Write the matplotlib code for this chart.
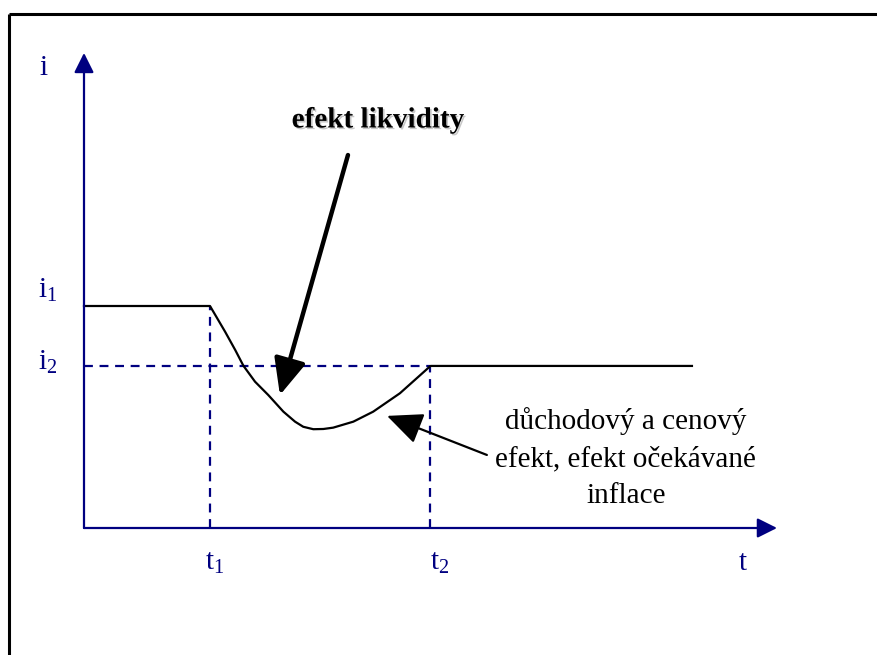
import matplotlib.pyplot as plt
import matplotlib.patheffects as pe
from matplotlib.lines import Line2D

plt.rcParams['font.family'] = ['Liberation Serif', 'DejaVu Serif']
plt.rcParams['mathtext.fontset'] = 'custom'
plt.rcParams['mathtext.rm'] = 'Liberation Serif'
plt.rcParams['mathtext.default'] = 'regular'

# levels and times
i1 = 10.0
i2 = 7.3
t1 = 4.0
t2 = 11.0
t_end = 19.3

# interest rate path
t_vals = [0.0, 4.0, 4.48, 4.80, 5.06, 5.43, 5.85, 6.33, 6.70, 6.96, 7.28, 7.60, 7.91,
          8.55, 9.18, 10.03, 11.0, 19.3]
i_vals = [10.0, 10.0, 8.84, 8.02, 7.31, 6.59, 5.99, 5.24, 4.79, 4.56, 4.45, 4.46, 4.52,
          4.79, 5.24, 6.07, 7.3, 7.3]

navy = '#000080'
fs = 21

fig = plt.figure(figsize=(8.78, 6.55), dpi=100)
ax = fig.add_axes([0, 0, 1, 1])
sx, sy = 31.5, 22.2
ax.set_xlim(-84 / sx, (878 - 84) / sx)
ax.set_ylim(-(655 - 528) / sy, 528 / sy)
ax.axis('off')

# frame (left and top edges only)
fig.add_artist(Line2D([9 / 878, 9 / 878], [0, 1 - 13.5 / 655], color='black', lw=2.2,
                      transform=fig.transFigure, solid_capstyle='butt'))
fig.add_artist(Line2D([9 / 878, 1], [1 - 13.5 / 655, 1 - 13.5 / 655], color='black', lw=2.2,
                      transform=fig.transFigure, solid_capstyle='butt'))

# axes with arrows
ax.annotate('', xy=(0, 21.4), xytext=(0, 0),
            arrowprops=dict(arrowstyle='-|>,head_length=0.6,head_width=0.3', color=navy,
                            lw=1.6, mutation_scale=20, shrinkA=0, shrinkB=0))
ax.annotate('', xy=(22.0, 0), xytext=(0, 0),
            arrowprops=dict(arrowstyle='-|>,head_length=0.6,head_width=0.3', color=navy,
                            lw=1.6, mutation_scale=20, shrinkA=0, shrinkB=0))

# dashed guides
ax.plot([0, t2], [i2, i2], color=navy, lw=1.6, ls=(0, (4, 3)))
ax.plot([t1, t1], [0, i1], color=navy, lw=1.6, ls=(0, (4, 3)))
ax.plot([t2, t2], [0, i2], color=navy, lw=1.6, ls=(0, (4, 3)))

# path
ax.plot(t_vals, i_vals, color='black', lw=1.6, solid_joinstyle='round')

# axis labels
ax.text(-1.30, 20.7, 'i', color=navy, fontsize=fs, ha='center', va='center')
ax.text(-1.14, i1 + 0.72, 'i$_1$', color=navy, fontsize=fs, ha='center', va='center')
ax.text(-1.14, i2 + 0.18, 'i$_2$', color=navy, fontsize=fs, ha='center', va='center')
ax.text(t1 + 0.16, -1.58, 't$_1$', color=navy, fontsize=fs, ha='center', va='center')
ax.text(t2 + 0.3, -1.58, 't$_2$', color=navy, fontsize=fs, ha='center', va='center')
ax.text(20.92, -1.58, 't', color=navy, fontsize=fs, ha='center', va='center')

# liquidity effect
ax.text(9.32, 18.38, 'efekt likvidity', fontsize=fs, fontweight='bold', ha='center', va='center',
        path_effects=[pe.SimplePatchShadow(offset=(1.2, -1.2), alpha=0.22), pe.Normal()])
ax.annotate('', xy=(6.22, 5.99), xytext=(8.38, 16.8),
            arrowprops=dict(arrowstyle='-|>,head_length=1.1,head_width=0.49', color='black',
                            lw=3.2, mutation_scale=20, shrinkA=0, shrinkB=0))

# income, price and expected inflation effect
ax.text(17.2, 3.15, 'důchodový a cenový\nefekt, efekt očekávané\ninflace', fontsize=fs,
        ha='center', va='center', linespacing=1.55)
ax.annotate('', xy=(9.62, 5.05), xytext=(12.79, 3.29),
            arrowprops=dict(arrowstyle='-|>,head_length=1.1,head_width=0.49', color='black',
                            lw=1.6, mutation_scale=20, shrinkA=0, shrinkB=0))

fig.savefig('out.png', dpi=100)
